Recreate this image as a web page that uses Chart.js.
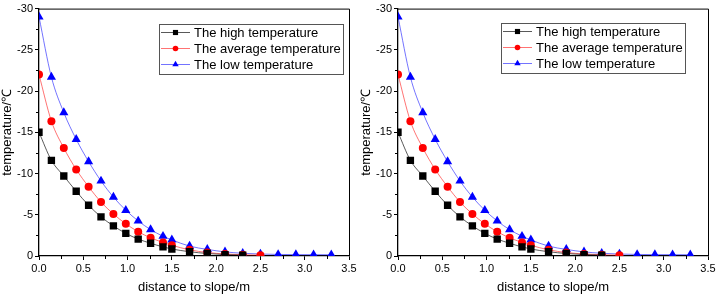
<!DOCTYPE html>
<html>
<head>
<meta charset="utf-8">
<script src="https://cdn.jsdelivr.net/npm/chart.js@4.4.1/dist/chart.umd.min.js"></script>
<style>
  html, body { margin: 0; padding: 0; background: #fff; }
  #wrap { width: 718px; height: 296px; display: flex; }
  .panel { position: relative; width: 359px; height: 296px; }
</style>
</head>
<body>
<div id="wrap">
  <div class="panel"><canvas id="chartLeft" width="359" height="296"></canvas></div>
  <div class="panel"><canvas id="chartRight" width="359" height="296"></canvas></div>
</div>
<script>
const FONT = 'Arial, "Liberation Sans", sans-serif';

// distance to slope (m)
const distance = [0, 0.14, 0.28, 0.42, 0.56, 0.70, 0.84, 0.98, 1.12, 1.26, 1.40, 1.50,
                  1.70, 1.90, 2.10, 2.30, 2.50, 2.70, 2.90, 3.10, 3.30];

// temperature (°C)
const highTemp = [-15, -11.6, -9.7, -7.85, -6.15, -4.75, -3.65, -2.75, -2.05, -1.55, -1.1, -0.85,
                  -0.52, -0.3, -0.17, -0.1];
const avgTemp  = [-22, -16.35, -13.1, -10.5, -8.4, -6.55, -5.1, -3.9, -2.95, -2.2, -1.65, -1.3,
                  -0.75, -0.42, -0.25, -0.15, -0.1];
const lowTemp  = [-29, -21.7, -17.4, -14.15, -11.45, -9.1, -7.15, -5.55, -4.25, -3.2, -2.4, -1.95,
                  -1.2, -0.8, -0.5, -0.33, -0.24, -0.19, -0.17, -0.16, -0.15];

const seriesLabels = ['The high temperature', 'The average temperature', 'The low temperature'];
const xTicks = { min: 0, max: 3.5, step: 0.5 };
const yTicks = { min: -30, max: 0, step: 5 };

function points(values) {
  return values.map((v, i) => ({ x: distance[i], y: v }));
}

function makeDatasets() {
  return [
    {
      label: seriesLabels[0], data: points(highTemp),
      borderColor: 'rgba(0,0,0,0.65)', borderWidth: 1,
      pointStyle: 'rect', pointRadius: 5.2,
      pointBackgroundColor: '#000', pointBorderColor: '#000', pointBorderWidth: 0,
    },
    {
      label: seriesLabels[1], data: points(avgTemp),
      borderColor: 'rgba(255,0,0,0.55)', borderWidth: 1,
      pointStyle: 'circle', pointRadius: 4,
      pointBackgroundColor: '#ff0000', pointBorderColor: '#ff0000', pointBorderWidth: 0,
    },
    {
      label: seriesLabels[2], data: points(lowTemp),
      borderColor: 'rgba(0,0,255,0.55)', borderWidth: 1,
      pointStyle: 'triangle', pointRadius: 5.3,
      pointBackgroundColor: '#0000ff', pointBorderColor: '#0000ff', pointBorderWidth: 0,
    },
  ];
}

// frame, minor ticks and the in-plot legend
const framePlugin = {
  id: 'frame',
  afterDraw(chart, args, opts) {
    const { ctx, chartArea: a, scales: { x, y } } = chart;
    ctx.save();
    ctx.strokeStyle = '#000';
    ctx.lineWidth = 1;
    ctx.beginPath();
    ctx.moveTo(a.left, a.top + 0.5);
    ctx.lineTo(a.right + 0.5, a.top + 0.5);
    ctx.lineTo(a.right + 0.5, a.bottom);
    ctx.stroke();

    // minor ticks
    ctx.beginPath();
    for (let v = xTicks.min + xTicks.step / 2; v < xTicks.max; v += xTicks.step) {
      const px = Math.round(x.getPixelForValue(v)) + 0.5;
      ctx.moveTo(px, a.bottom);
      ctx.lineTo(px, a.bottom + 3);
    }
    for (let v = yTicks.min + yTicks.step / 2; v < yTicks.max; v += yTicks.step) {
      const py = Math.round(y.getPixelForValue(v)) + 0.5;
      ctx.moveTo(a.left, py);
      ctx.lineTo(a.left - 3, py);
    }
    ctx.stroke();

    // legend box
    const bx = opts.x, by = opts.y, bw = 184, bh = 50;
    ctx.strokeStyle = '#555';
    ctx.strokeRect(bx + 0.5, by + 0.5, bw, bh);
    ctx.font = '13px ' + FONT;
    ctx.textBaseline = 'middle';
    ctx.fillStyle = '#000';
    chart.data.datasets.forEach((ds, i) => {
      const ry = by + 8.5 + i * 16;
      ctx.strokeStyle = ds.borderColor;
      ctx.beginPath();
      ctx.moveTo(bx + 2, ry);
      ctx.lineTo(bx + 31, ry);
      ctx.stroke();
      ctx.fillStyle = ds.pointBackgroundColor;
      Chart.helpers.drawPoint(ctx, { pointStyle: ds.pointStyle, radius: ds.pointRadius * 0.7, borderWidth: 0 }, bx + 16.5, ry);
      ctx.fillStyle = '#000';
      ctx.fillText(ds.label, bx + 35, ry + 1);
    });
    ctx.restore();
  }
};

function buildChart(id, legendPos) {
  return new Chart(document.getElementById(id), {
    type: 'line',
    data: { datasets: makeDatasets() },
    plugins: [framePlugin],
    options: {
      responsive: false,
      animation: false,
      events: [],
      layout: { padding: { top: 7, right: 10, bottom: 0, left: 0 } },
      elements: { line: { cubicInterpolationMode: 'monotone' } },
      plugins: {
        legend: { display: false },
        tooltip: { enabled: false },
        frame: legendPos,
      },
      scales: {
        x: {
          type: 'linear', min: xTicks.min, max: xTicks.max,
          afterFit: s => { s.height = 40; },
          border: { display: true, color: '#000', width: 1.3 },
          grid: { drawOnChartArea: false, drawTicks: true, tickLength: 4, color: '#000' },
          ticks: { stepSize: xTicks.step, padding: 2, color: '#000', font: { family: FONT, size: 11 },
                   callback: v => v.toFixed(1) },
          title: { display: true, text: 'distance to slope/m', color: '#000',
                   font: { family: FONT, size: 13 }, padding: { top: 0, bottom: 1 } },
        },
        y: {
          type: 'linear', min: yTicks.min, max: yTicks.max, reverse: true,
          afterFit: s => { s.width = 39; },
          border: { display: true, color: '#000', width: 1.3 },
          grid: { drawOnChartArea: false, drawTicks: true, tickLength: 4, color: '#000' },
          ticks: { stepSize: yTicks.step, padding: 2, color: '#000', font: { family: FONT, size: 11 } },
          title: { display: true, text: 'temperature/℃', color: '#000',
                   font: { family: FONT, size: 13 }, padding: { top: 0, bottom: 0 } },
        },
      },
    },
  });
}

buildChart('chartLeft', { x: 159, y: 24 });
buildChart('chartRight', { x: 142, y: 23 });
</script>
</body>
</html>
